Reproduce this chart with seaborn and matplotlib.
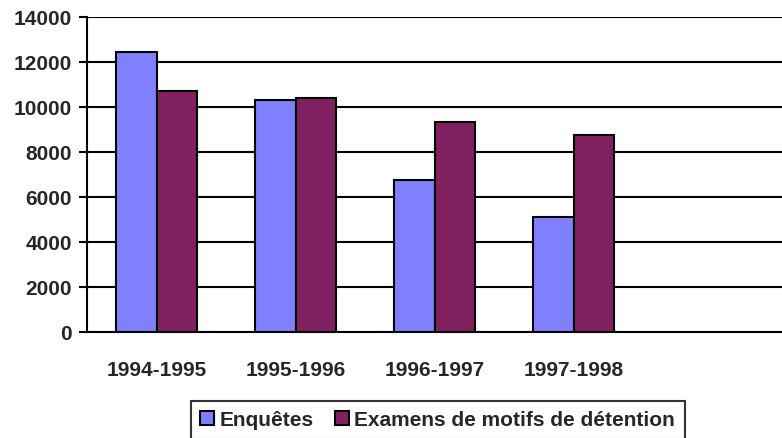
import matplotlib
matplotlib.use("Agg")
import matplotlib.pyplot as plt
import numpy as np
import pandas as pd
import seaborn as sns

periods = ["1994-1995", "1995-1996", "1996-1997", "1997-1998"]
enquetes = [12450, 10300, 6750, 5100]
examens = [10700, 10400, 9350, 8750]
series_names = ["Enquêtes", "Examens de motifs de détention"]

df = pd.DataFrame({
    "period": periods * 2,
    "value": enquetes + examens,
    "series": [series_names[0]] * len(periods) + [series_names[1]] * len(periods),
})

sns.set_theme(style="white")
plt.rcParams["font.family"] = ["Liberation Sans", "DejaVu Sans"]
plt.rcParams["font.weight"] = "bold"

fig = plt.figure(figsize=(7.82, 4.39), dpi=100)
ax = fig.add_axes([0.1113, 0.2415, 0.889, 0.7175])

lw = 1.5
palette = {series_names[0]: "#8080FF", series_names[1]: "#802060"}
sns.barplot(data=df, x="period", y="value", hue="series", order=periods,
            palette=palette, width=0.58, edgecolor="black", linewidth=lw,
            saturation=1, ax=ax, zorder=3)

ax.set_xlim(-0.5, 4.5)
ax.set_ylim(0, 14000)
ax.set_yticks(np.arange(0, 14001, 2000))
ax.yaxis.grid(True, color="black", linewidth=lw, zorder=0)
ax.set_axisbelow(True)

for side in ["top", "right"]:
    ax.spines[side].set_visible(False)
for side in ["left", "bottom"]:
    ax.spines[side].set_color("black")
    ax.spines[side].set_linewidth(lw)

ax.set_xticks(range(len(periods)))
ax.set_xticklabels(periods, fontsize=15, fontweight="bold")
ax.set_xticks(np.arange(-0.5, 4.6, 1), minor=True)
ax.tick_params(axis="x", which="major", length=0, pad=20)
ax.tick_params(axis="x", which="minor", length=6, width=lw, color="black", direction="out")
ax.tick_params(axis="y", length=6, width=lw, color="black", direction="out", left=True,
               labelsize=15, pad=5)
for lbl in ax.get_yticklabels():
    lbl.set_fontweight("bold")
ax.set_xlabel("")
ax.set_ylabel("")

handles, labels = ax.get_legend_handles_labels()
ax.legend_.remove()
leg = fig.legend(handles, labels, loc="upper center", bbox_to_anchor=(0.5595, 1 - 402 / 439),
                 ncol=2, frameon=True, fancybox=False,
                 prop={"weight": "bold", "size": 15},
                 handlelength=0.7, handleheight=0.7, handletextpad=0.25,
                 columnspacing=1.0, borderpad=0.45, borderaxespad=0.0)
leg.get_frame().set_edgecolor("black")
leg.get_frame().set_linewidth(lw)

fig.savefig("out.png", dpi=100)
